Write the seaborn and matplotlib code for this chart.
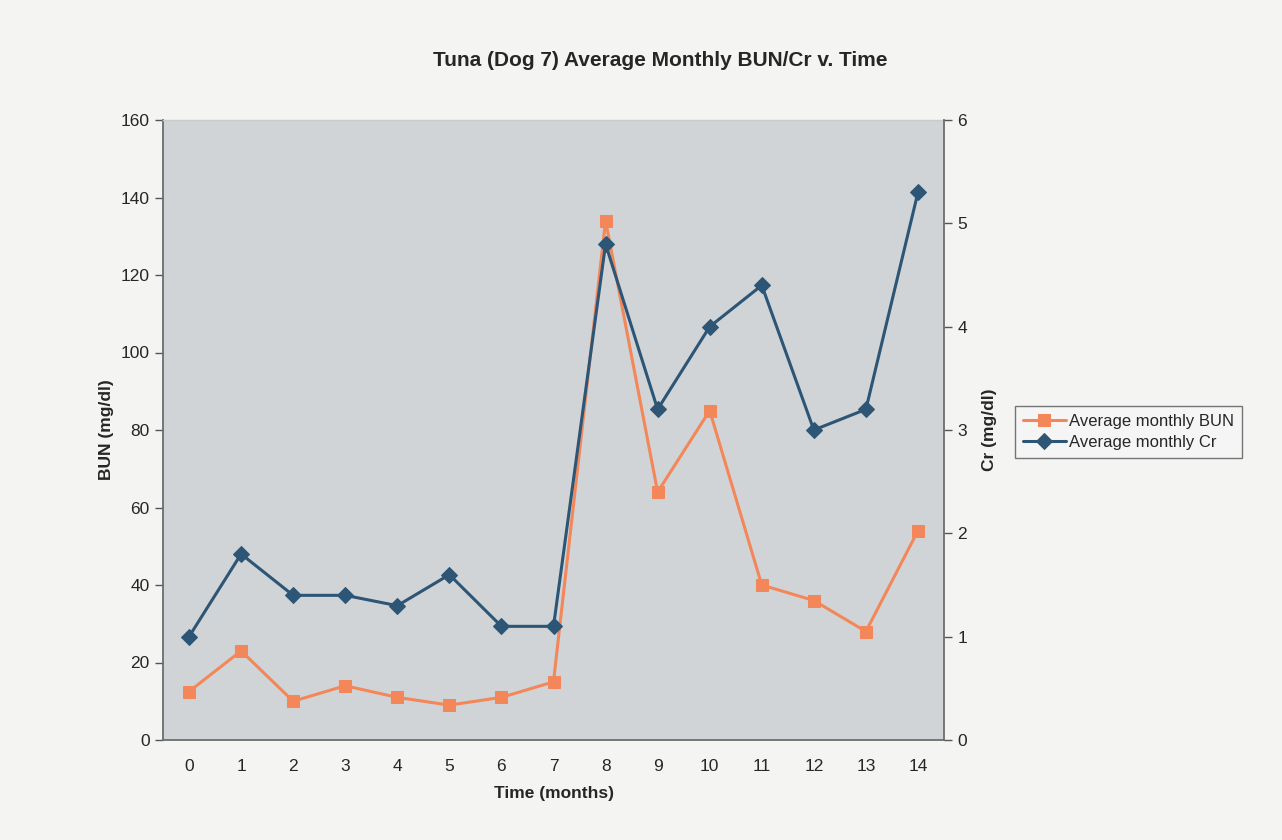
import matplotlib
matplotlib.use("Agg")
import matplotlib.pyplot as plt
import seaborn as sns
import pandas as pd
from matplotlib.ticker import FixedLocator

months = list(range(15))
bun = [12.5, 23, 10, 14, 11, 9, 11, 15, 134, 64, 85, 40, 36, 28, 54]
cr = [1.0, 1.8, 1.4, 1.4, 1.3, 1.6, 1.1, 1.1, 4.8, 3.2, 4.0, 4.4, 3.0, 3.2, 5.3]
bun_ticks = [0, 20, 40, 60, 80, 100, 120, 140, 160]
cr_ticks = [0, 1, 2, 3, 4, 5, 6]

sns.set_style("white")
plt.rcParams['font.family'] = ['Liberation Sans', 'DejaVu Sans']

df = pd.DataFrame({"month": months, "bun": bun, "cr": cr})

orange = "#f4875a"
blue = "#2d5575"

fig = plt.figure(figsize=(12.82, 8.4), dpi=100)
fig.patch.set_facecolor("#f4f4f3")
ax = fig.add_axes([163/1282, 100/840, (944-163)/1282, 620/840])
ax.set_facecolor("#d0d4d7")
ax2 = ax.twinx()

sns.lineplot(data=df, x="month", y="bun", ax=ax, color=orange, marker="s",
             markersize=8, markeredgecolor=orange, linewidth=2.2, label="Average monthly BUN", legend=False)
sns.lineplot(data=df, x="month", y="cr", ax=ax2, color=blue, marker="D",
             markersize=8, markeredgecolor=blue, linewidth=2.2, label="Average monthly Cr", legend=False)

ax.set_xlim(-0.5, 14.5)
ax.set_ylim(0, 160)
ax2.set_ylim(0, 6)
ax.set_yticks(bun_ticks)
ax2.set_yticks(cr_ticks)
ax.set_xticks(months)
ax.xaxis.set_minor_locator(FixedLocator([i - 0.5 for i in range(16)]))
ax.tick_params(axis="x", which="major", length=0, labelsize=12.5, pad=14)
ax.tick_params(axis="x", which="minor", length=8, width=1, direction="inout", color="#555555")
ax.tick_params(axis="y", length=6, width=1, direction="out", labelsize=12.5, color="#555555", left=True)
ax2.tick_params(axis="y", length=6, width=1, direction="out", labelsize=12.5, color="#555555", right=True)

for a in (ax, ax2):
    for s in a.spines.values():
        s.set_visible(False)
ax.spines["left"].set_visible(True)
ax.spines["bottom"].set_visible(True)
ax2.spines["right"].set_visible(True)
for sp in (ax.spines["left"], ax.spines["bottom"], ax2.spines["right"]):
    sp.set_color("#6a6e6e")
    sp.set_linewidth(1.3)
ax.spines["top"].set_visible(True)
ax.spines["top"].set_color("#c8cbcc")
ax.spines["top"].set_linewidth(1.0)

ax.set_xlabel("Time (months)", fontsize=12.5, fontweight="bold", labelpad=8)
ax.set_ylabel("BUN (mg/dl)", fontsize=12.5, fontweight="bold", labelpad=5)
ax2.set_ylabel("Cr (mg/dl)", fontsize=12.5, fontweight="bold", labelpad=11)

fig.text(660/1282, 1 - 60/840, "Tuna (Dog 7) Average Monthly BUN/Cr v. Time",
         ha="center", va="center", fontsize=15, fontweight="bold")

h1, l1 = ax.get_legend_handles_labels()
h2, l2 = ax2.get_legend_handles_labels()
leg = fig.legend(h1 + h2, l1 + l2, loc="center left", bbox_to_anchor=(1015/1282, 1 - 432/840),
                 frameon=True, fancybox=False, fontsize=12, handlelength=2.6,
                 borderpad=0.45, labelspacing=0.4, handletextpad=0.2, borderaxespad=0)
leg.get_frame().set_edgecolor("#555555")
leg.get_frame().set_facecolor("#f6f6f6")
leg.get_frame().set_linewidth(1.0)

fig.savefig("out.png", dpi=100, facecolor=fig.get_facecolor())
